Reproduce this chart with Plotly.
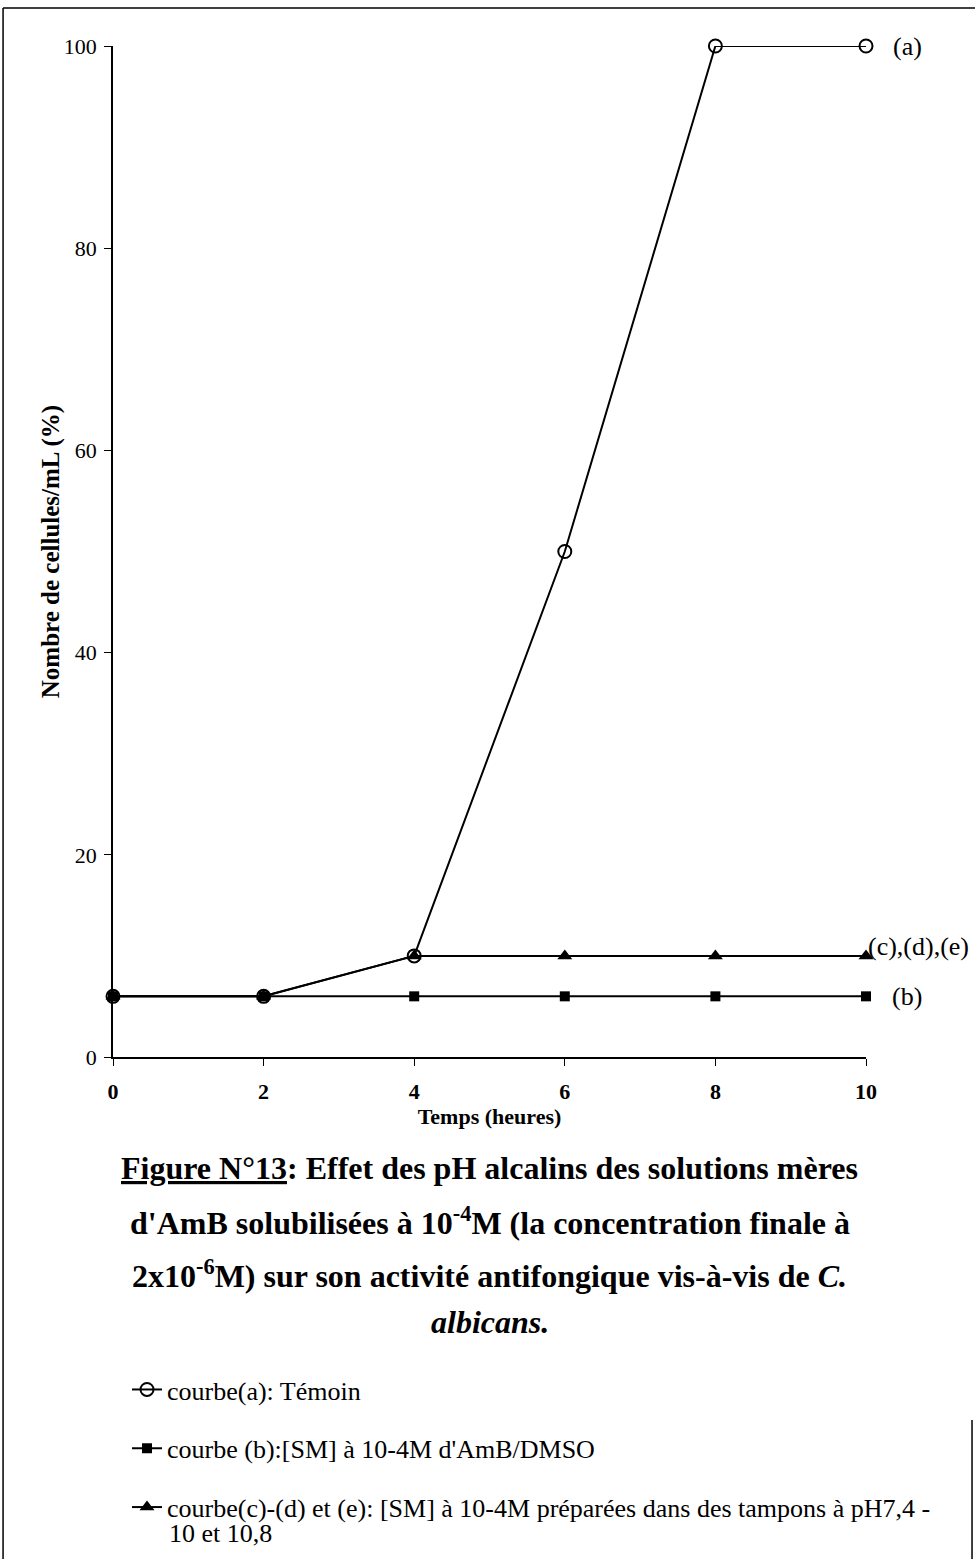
import plotly.graph_objects as go

# Data
time_h = [0, 2, 4, 6, 8, 10]
courbe_a = [6, 6, 10, 50, 100, 100]
courbe_b = [6, 6, 6, 6, 6, 6]
courbe_cde = [6, 6, 10, 10, 10, 10]

x_ticks = [0, 2, 4, 6, 8, 10]
y_ticks = [0, 20, 40, 60, 80, 100]

names = [
    "courbe(a): Témoin",
    "courbe (b):[SM] à 10-4M d'AmB/DMSO",
    "courbe(c)-(d) et (e): [SM] à 10-4M préparées dans des tampons à pH7,4 -",
]
name_c_cont = "10 et 10,8"
end_labels = ["(a)", "(b)", "(c),(d),(e)"]

FONT = "Liberation Serif"

fig = go.Figure()
fig.add_trace(go.Scatter(
    x=time_h, y=courbe_a, name=names[0], mode="lines+markers", legendgroup="a",
    line=dict(color="black", width=2), cliponaxis=False,
    marker=dict(symbol="circle-open", size=13, color="black", line=dict(width=2)),
))
fig.add_trace(go.Scatter(
    x=time_h, y=courbe_b, name=names[1], mode="lines+markers", legendgroup="b",
    line=dict(color="black", width=2), cliponaxis=False,
    marker=dict(symbol="square", size=10, color="black"),
))
fig.add_trace(go.Scatter(
    x=time_h, y=courbe_cde, name=names[2], mode="lines+markers", legendgroup="c",
    line=dict(color="black", width=2), cliponaxis=False,
    marker=dict(symbol="triangle-up", size=13, color="black"),
))

annotations = [
    dict(x=time_h[-1], y=courbe_a[-1], text=end_labels[0], xref="x", yref="y",
         showarrow=False, xanchor="left", xshift=25, font=dict(size=26)),
    dict(x=time_h[-1], y=courbe_b[-1], text=end_labels[1], xref="x", yref="y",
         showarrow=False, xanchor="left", xshift=24, font=dict(size=26)),
    dict(x=time_h[-1], y=courbe_cde[-1], text=end_labels[2], xref="x", yref="y",
         showarrow=False, xanchor="left", xshift=0, yshift=9, font=dict(size=26)),
    dict(x=-0.104, y=0.5, xref="paper", yref="paper", showarrow=False,
         text="<b>Nombre de cellules/mL (%)</b>", textangle=-90, font=dict(size=25)),
    dict(x=(167 - 113) / 753, y=(1057 - 1533) / 1011, xref="paper", yref="paper",
         showarrow=False, xanchor="left", yanchor="middle", text=name_c_cont,
         font=dict(size=26)),
]

caption = [
    "<b><u>Figure N°13</u>: Effet des pH alcalins des solutions mères</b>",
    "<b>d'AmB solubilisées à 10<sup>-4</sup>M (la concentration finale à</b>",
    "<b>2x10<sup>-6</sup>M) sur son activité antifongique vis-à-vis de <i>C.</i></b>",
    "<b><i>albicans.</i></b>",
]
cap_y = [-0.110, -0.1625, -0.215, -0.2625]
for t, yy in zip(caption, cap_y):
    annotations.append(dict(x=0.5, y=yy, xref="paper", yref="paper", showarrow=False,
                            text=t, font=dict(size=32), yanchor="middle"))

shapes = [
    dict(type="line", xref="paper", yref="paper", x0=-0.146, x1=-0.146, y0=-0.51, y1=1.0376,
         line=dict(color="black", width=1.5)),
    dict(type="line", xref="paper", yref="paper", x0=-0.146, x1=1.15, y0=1.0376, y1=1.0376,
         line=dict(color="black", width=1.5)),
    dict(type="line", xref="paper", yref="paper", x0=1.1408, x1=1.1408, y0=-0.51, y1=-0.359,
         line=dict(color="black", width=1.5)),
]

fig.update_layout(
    width=975, height=1559,
    margin=dict(l=113, r=109, t=46, b=502, autoexpand=False),
    paper_bgcolor="white", plot_bgcolor="white",
    font=dict(family=FONT, color="black", size=22),
    showlegend=True,
    legend=dict(x=0.0186, y=-0.3057, xanchor="left", yanchor="top",
                font=dict(size=26, family=FONT), tracegroupgap=22,
                bgcolor="rgba(0,0,0,0)"),
    annotations=annotations,
    shapes=shapes,
)
fig.update_xaxes(
    range=[0, 10], tickvals=x_ticks, ticktext=[f"<b>{v}</b>" for v in x_ticks],
    showline=True, linecolor="black", linewidth=1.5, ticks="outside", ticklen=7,
    tickcolor="black", showgrid=False, zeroline=False, ticklabelstandoff=7,
    tickfont=dict(size=22),
    title=dict(text="<b>Temps (heures)</b>", font=dict(size=22), standoff=2),
)
fig.update_yaxes(
    range=[0, 100], tickvals=y_ticks,
    showline=True, linecolor="black", linewidth=1.5, ticks="outside", ticklen=7,
    tickcolor="black", showgrid=False, zeroline=False, ticklabelstandoff=3,
    tickfont=dict(size=22),
)

fig.write_html("out.html", config={"displayModeBar": False},
               post_script="document.body.style.margin='0px';")
